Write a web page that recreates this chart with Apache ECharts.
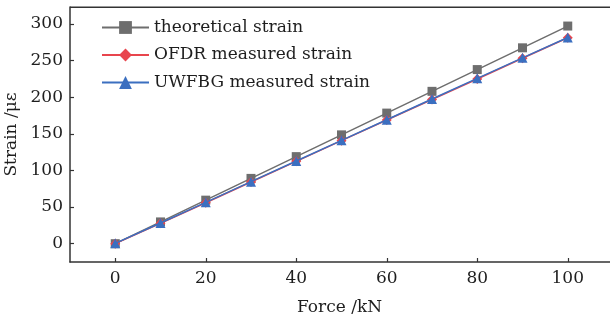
<!DOCTYPE html>
<html><head><meta charset="utf-8">
<script src="https://cdn.jsdelivr.net/npm/echarts@6/dist/echarts.min.js"></script>
<style>html,body{margin:0;padding:0;background:#fff}#c{width:610px;height:320px}</style>
</head><body><div id="c"></div>
<script>
const force = [0, 10, 20, 30, 40, 50, 60, 70, 80, 90, 100];
const theoretical = [0, 29.7, 59.4, 89.1, 118.8, 148.5, 178.2, 207.9, 237.6, 267.3, 297];
const ofdr = [0, 27.8, 55.8, 84.2, 112.4, 140.6, 168.8, 196.8, 224.8, 253.0, 281.0];
const uwfbg = [0.5, 28.2, 56.4, 84.6, 112.8, 141.0, 169.2, 197.4, 225.6, 253.6, 281.4];
const xTicks = [0, 20, 40, 60, 80, 100];
const yTicks = [0, 50, 100, 150, 200, 250, 300];
const names = ['theoretical strain', 'OFDR measured strain', 'UWFBG measured strain'];

const font = 'DejaVu Serif';
const txt = '#1e1e1e';
const chart = echarts.init(document.getElementById('c'), null, {renderer: 'canvas'});
const pair = arr => force.map((f, i) => [f, arr[i]]);
const axisCommon = {
  axisLine: {show: true, onZero: false, lineStyle: {color: '#333', width: 1.5}},
  axisTick: {show: true, inside: true, length: 4, lineStyle: {color: '#333', width: 1.2}},
  splitLine: {show: false},
};
chart.setOption({
  animation: false,
  textStyle: {fontFamily: font},
  grid: {left: 70, top: 7, width: 543, bottom: 58, containLabel: false, outerBoundsMode: 'none'},
  legend: {
    left: 101, top: 19, padding: 0, orient: 'vertical', itemWidth: 47, itemHeight: 16, itemGap: 10.5,
    textStyle: {fontFamily: font, fontSize: 17, color: txt},
    data: names
  },
  xAxis: Object.assign({}, axisCommon, {
    type: 'value', min: -10, max: 110,
    name: 'Force /kN', nameLocation: 'middle', nameGap: 37,
    nameTextStyle: {fontFamily: font, fontSize: 17, color: txt, padding: [0, 4, 0, 0]},
    axisTick: Object.assign({}, axisCommon.axisTick, {customValues: xTicks}),
    axisLabel: {customValues: xTicks, margin: 8, fontFamily: font, fontSize: 17, color: txt}
  }),
  yAxis: Object.assign({}, axisCommon, {
    type: 'value', min: -25, max: 323,
    name: 'Strain /με', nameLocation: 'middle', nameGap: 42,
    nameTextStyle: {fontFamily: font, fontSize: 17, color: txt},
    axisTick: Object.assign({}, axisCommon.axisTick, {customValues: yTicks}),
    axisLabel: {customValues: yTicks, margin: 7, fontFamily: font, fontSize: 17, color: txt}
  }),
  series: [
    {name: names[0], type: 'line', data: pair(theoretical), symbol: 'rect', symbolSize: 9,
     itemStyle: {color: '#6e6e6e'}, lineStyle: {color: '#6e6e6e', width: 1.5}, z: 2},
    {name: names[1], type: 'line', data: pair(ofdr), symbol: 'diamond', symbolSize: 10,
     itemStyle: {color: '#e8454d'}, lineStyle: {color: '#e8454d', width: 1.5}, z: 3},
    {name: names[2], type: 'line', data: pair(uwfbg), symbol: 'triangle', symbolSize: 10,
     itemStyle: {color: '#3b6fc0'}, lineStyle: {color: '#3b6fc0', width: 1.5}, z: 4}
  ],
  graphic: [{type: 'line', shape: {x1: 70, y1: 7.3, x2: 610, y2: 7.3}, style: {stroke: '#333', lineWidth: 1.5}, z: 10}]
});
</script></body></html>
